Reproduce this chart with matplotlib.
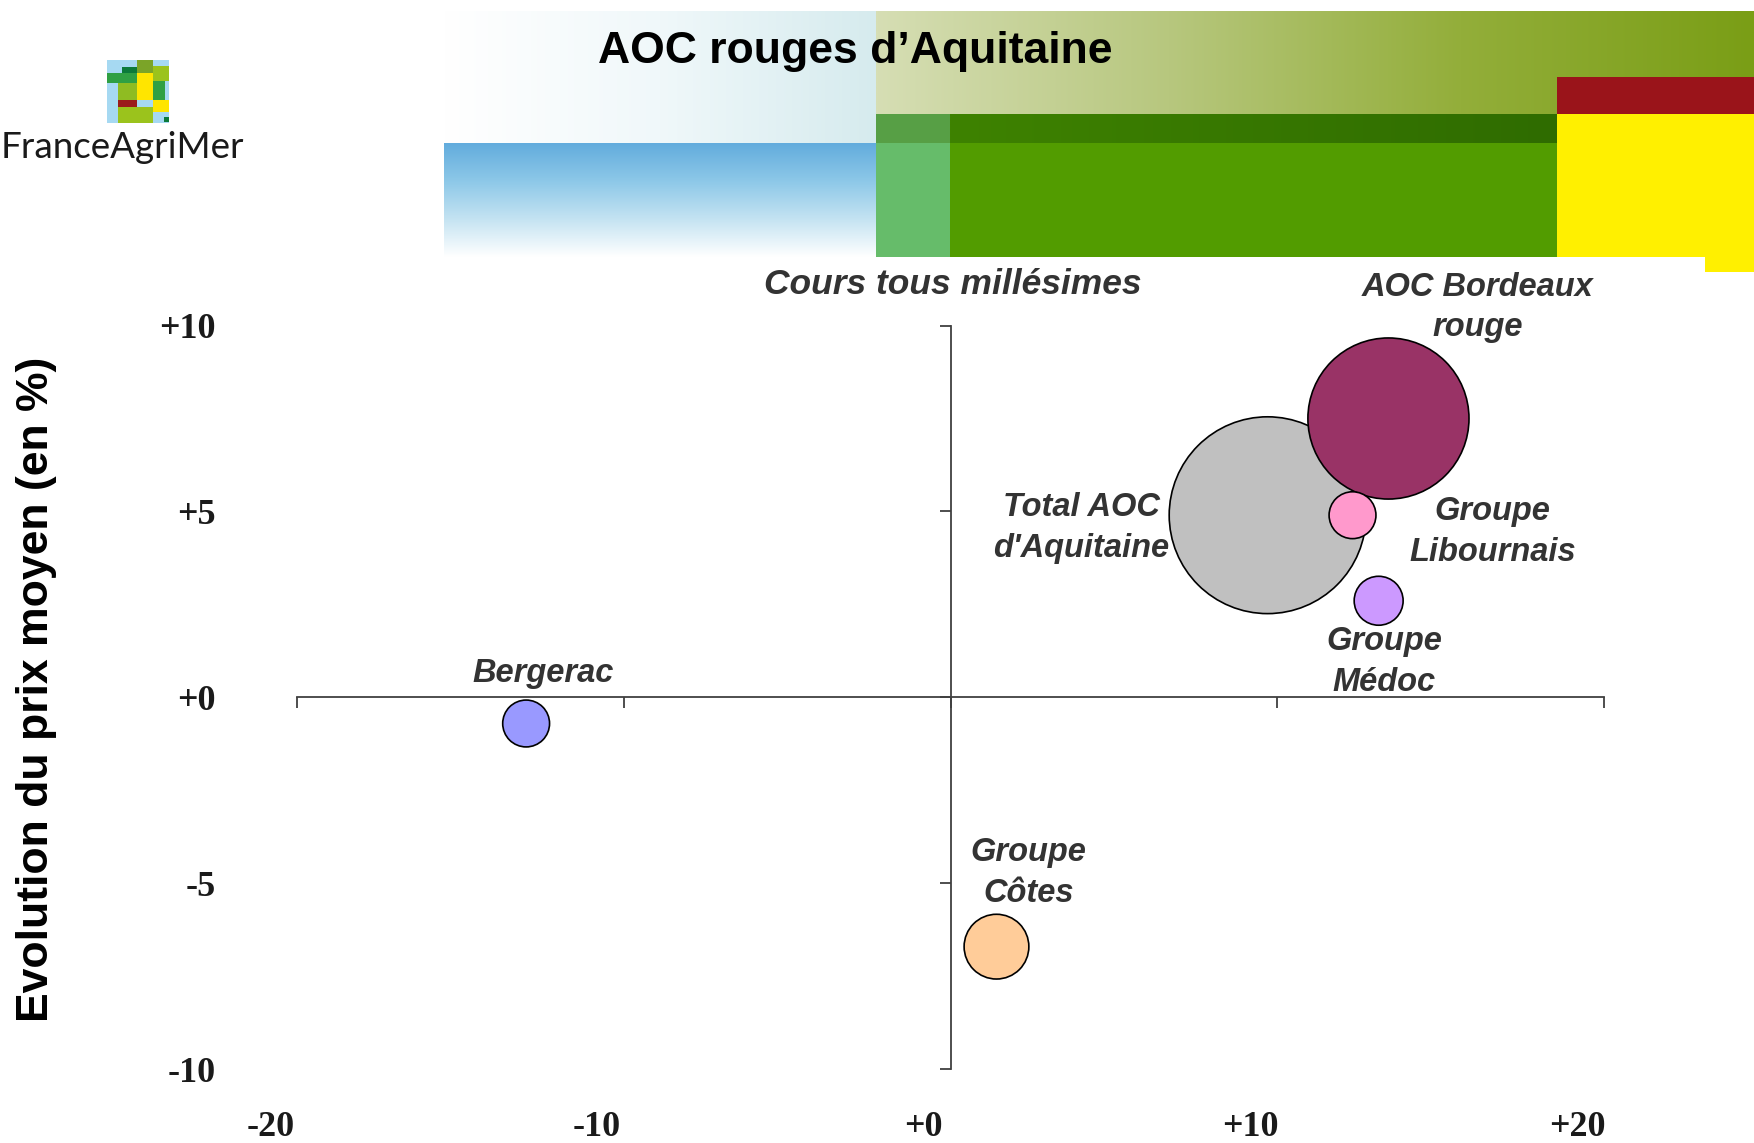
import numpy as np
import matplotlib.pyplot as plt
from matplotlib.patches import Rectangle
from matplotlib.colors import to_rgb
from matplotlib.transforms import ScaledTranslation

# --- data: evolution des volumes (x, %), evolution du prix moyen (y, %), volumes ---
names = ["Total AOC\nd'Aquitaine", "AOC Bordeaux\nrouge", "Groupe\nLibournais",
         "Groupe\nMédoc", "Bergerac", "Groupe\nCôtes"]
evol_volume = [9.7, 13.4, 12.3, 13.1, -13.0, 1.4]
evol_prix = [4.9, 7.5, 4.9, 2.6, -0.7, -6.7]
volumes = [97, 65, 5.5, 6, 5.5, 10.5]

x_ticks = [-20, -10, 0, 10, 20]
x_ticklabels = ['-20', '-10', '+0', '+10', '+20']
y_ticks = [-10, -5, 0, 5, 10]
y_ticklabels = ['-10', '-5', '+0', '+5', '+10']

# styles
colors = ['#C0C0C0', '#993366', '#FF99CC', '#CC99FF', '#9999FF', '#FFCC99']
label_offsets = [(-134, -9), (64, 80), (101, -12), (4, -44), (12, 36), (23, 53)]

fig = plt.figure(figsize=(17.54, 11.43), dpi=100)

# --- background header drawn in pixel coordinates ---
bg = fig.add_axes([0, 0, 1, 1], zorder=0)
bg.axis('off')


def gradient(x0, x1, y0, y1, stops, horizontal=True):
    t = np.linspace(0, 1, 256)
    pos = np.linspace(0, 1, len(stops))
    cols = np.array([to_rgb(c) for c in stops])
    img = np.stack([np.interp(t, pos, cols[:, k]) for k in range(3)], axis=1)
    img = img[None, :, :] if horizontal else img[:, None, :]
    bg.imshow(img, extent=(x0, x1, y1, y0), aspect='auto', interpolation='bilinear')


def rect(x0, x1, y0, y1, color):
    bg.add_patch(Rectangle((x0, y0), x1 - x0, y1 - y0, color=color, lw=0))


gradient(444, 876, 11, 143, ['#FFFFFF', '#F0F8FA', '#D6EBEE'])
gradient(444, 876, 143, 257, ['#62ACDD', '#8DC8E8', '#C4E3F2', '#FFFFFF'], horizontal=False)
gradient(876, 1754, 11, 114, ['#D6DEB4', '#B7C77E', '#93AE3A', '#7A9E16'])
gradient(950, 1557, 114, 143, ['#3E8200', '#2F6C00'])
rect(876, 950, 114, 143, '#579F45')
rect(876, 950, 143, 257, '#66BC6A')
rect(950, 1557, 143, 257, '#529C00')
rect(1557, 1754, 77, 114, '#9A141A')
rect(1557, 1754, 114, 257, '#FFF000')
rect(1705, 1754, 257, 272, '#FFF000')

# logo
rect(106.7, 169.3, 60, 122.7, '#A6D9F2')
rect(137.3, 153.3, 60, 73.3, '#7BA428')
rect(121.7, 137.3, 66.7, 73.3, '#0B7A3A')
rect(153.3, 169.3, 66, 80.7, '#9BC31C')
rect(106.7, 137.3, 73.3, 82.7, '#2FA043')
rect(137.3, 153.3, 73.3, 100, '#FFE500')
rect(118.3, 137.3, 82.7, 100, '#8FBC22')
rect(153.3, 165, 80.7, 100, '#2FA043')
rect(118.3, 137.3, 100, 106.7, '#9B1B1B')
rect(153.3, 169.3, 100, 111.7, '#FFE500')
rect(118.3, 153.3, 106.7, 122.7, '#9BC31C')
rect(164, 169.3, 116.7, 122, '#0B7A3A')
bg.text(1, 158, 'FranceAgriMer', family='Lato', fontweight='normal', fontsize=26.5,
        color='#1A1A1A', va='baseline', ha='left')

bg.set_xlim(0, 1754)
bg.set_ylim(1143, 0)

# --- bubble chart ---
pos = [0.1696, 0.0644, 0.7449, 0.6508]
ax = fig.add_axes(pos, zorder=2)
ax.patch.set_alpha(0)
ax.set_xlim(-20, 20)
ax.set_ylim(-10, 10)
for s in ['top', 'right']:
    ax.spines[s].set_visible(False)
for s in ['left', 'bottom']:
    ax.spines[s].set_position(('data', 0))
    ax.spines[s].set_color('#404040')
    ax.spines[s].set_linewidth(1.3)
ax.set_xticks(x_ticks)
ax.set_yticks(y_ticks)
ax.tick_params(axis='both', direction='out', length=8, width=1.3, color='#404040',
               labelbottom=False, labelleft=False)

ax.scatter(evol_volume, evol_prix, s=np.array(volumes) * 207, c=colors,
           edgecolors='black', linewidths=1.2, zorder=3, clip_on=False)

for name, x, y, off in zip(names, evol_volume, evol_prix, label_offsets):
    ax.annotate(name, (x, y), xytext=off, textcoords='offset points',
                ha='center', va='center', fontsize=23.5, fontweight='bold',
                fontstyle='italic', color='#333333', family='Liberation Sans',
                linespacing=1.4)

# tick labels sit at the frame edges, not on the crossing axes
axl = fig.add_axes(pos, zorder=1, frameon=False)
axl.set_xlim(-20, 20)
axl.set_ylim(-10, 10)
axl.set_xticks(x_ticks, x_ticklabels)
axl.set_yticks(y_ticks, y_ticklabels)
axl.tick_params(axis='x', length=0, pad=30)
axl.tick_params(axis='y', length=0, pad=59)
for lbl in axl.get_xticklabels() + axl.get_yticklabels():
    lbl.set_family('Liberation Serif')
    lbl.set_fontweight('bold')
    lbl.set_fontsize(26)
    lbl.set_color('#1A1A1A')
for lbl in axl.get_xticklabels():
    lbl.set_transform(lbl.get_transform() + ScaledTranslation(-0.27, 0, fig.dpi_scale_trans))

# titles
fig.text(855 / 1754, 1 - 52 / 1143, 'AOC rouges d\u2019Aquitaine', ha='center', va='center',
         fontsize=32, fontweight='bold', family='Liberation Sans', color='black')
fig.text(953 / 1754, 1 - 284 / 1143, 'Cours tous millésimes', ha='center', va='center',
         fontsize=25.5, fontweight='bold', fontstyle='italic', family='Liberation Sans',
         color='#333333')
fig.text(37 / 1754, 1 - 689 / 1143, 'Evolution du prix moyen (en %)', rotation=90,
         ha='center', va='center', fontsize=32, fontweight='bold',
         family='Liberation Sans', color='black')

fig.savefig('out.png', dpi=100)
